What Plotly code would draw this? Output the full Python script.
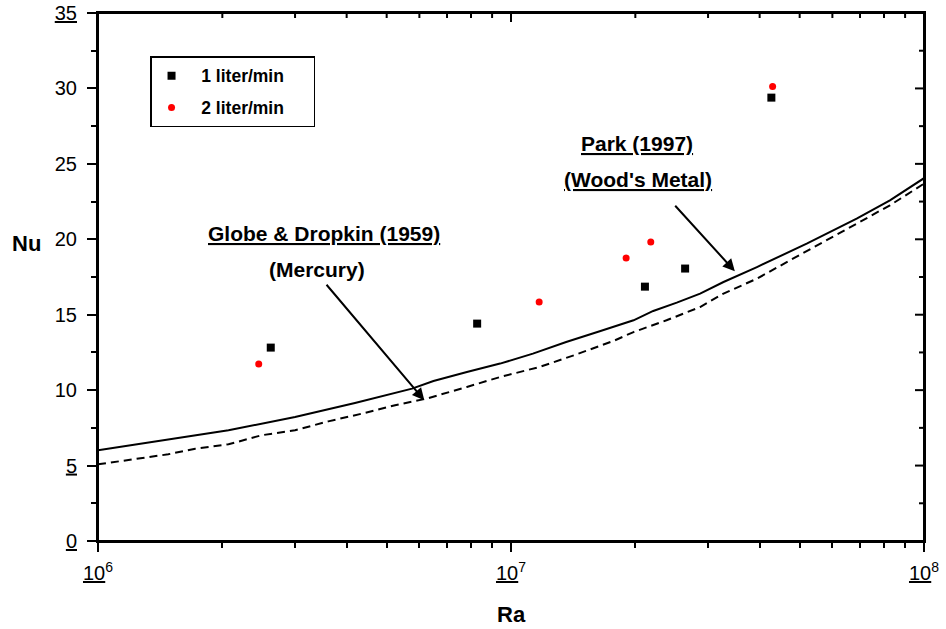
import plotly.graph_objects as go

# ---- data ----
ra_1lpm = [2.62e6, 8.28e6, 2.11e7, 2.64e7, 4.27e7]
nu_1lpm = [12.82, 14.41, 16.86, 18.06, 29.39]

ra_2lpm = [2.45e6, 1.17e7, 1.90e7, 2.18e7, 4.30e7]
nu_2lpm = [11.73, 15.84, 18.76, 19.82, 30.12]

ra_globe = [1.00e6, 2.07e6, 3.00e6, 4.19e6, 5.76e6, 6.49e6, 7.82e6, 9.41e6, 1.13e7,
            1.36e7, 1.64e7, 1.98e7, 2.21e7, 2.52e7, 2.87e7, 3.27e7, 3.94e7, 5.20e7,
            6.87e7, 8.27e7, 1.00e8]
nu_globe = [6.01, 7.34, 8.22, 9.15, 10.10, 10.61, 11.20, 11.76, 12.42,
            13.19, 13.90, 14.63, 15.25, 15.80, 16.40, 17.17, 18.16, 19.71,
            21.37, 22.58, 24.05]

ra_park = [1.00e6, 1.48e6, 1.72e6, 2.07e6, 2.49e6, 3.00e6, 3.61e6, 4.35e6, 5.24e6,
           6.25e6, 7.82e6, 9.41e6, 1.17e7, 1.42e7, 1.77e7, 1.98e7, 2.38e7, 2.87e7,
           3.27e7, 3.94e7, 4.74e7, 5.71e7, 6.87e7, 8.27e7, 1.00e8]
nu_park = [5.08, 5.75, 6.12, 6.41, 7.01, 7.34, 7.93, 8.44, 9.00,
           9.44, 10.21, 10.87, 11.53, 12.31, 13.26, 13.85, 14.63, 15.51,
           16.40, 17.39, 18.61, 19.82, 21.04, 22.25, 23.69]

x_tickvals = [1e6, 1e7, 1e8]
x_ticktext = ["<u>10</u><sup>6</sup>", "<u>10</u><sup>7</sup>", "<u>10</u><sup>8</sup>"]
x_minor = [2e6, 3e6, 4e6, 5e6, 6e6, 7e6, 8e6, 9e6,
           2e7, 3e7, 4e7, 5e7, 6e7, 7e7, 8e7, 9e7]
y_tickvals = [0, 5, 10, 15, 20, 25, 30, 35]
y_ticktext = ["<u>0</u>", "<u>5</u>", "10", "15", "20", "25", "30", "<u>35</u>"]
y_minor = [2.5, 7.5, 12.5, 17.5, 22.5, 27.5, 32.5]

FONT = "Arial, Liberation Sans, sans-serif"
NB = "\u00a0"
PLOT_W, PLOT_H = 826, 528
MAJ, MIN = 9, 5

fig = go.Figure()

fig.add_trace(go.Scatter(x=ra_globe, y=nu_globe, mode="lines",
                         line=dict(color="black", width=2), showlegend=False,
                         hoverinfo="skip"))
fig.add_trace(go.Scatter(x=ra_park, y=nu_park, mode="lines",
                         line=dict(color="black", width=2, dash="8px,5px"),
                         showlegend=False, hoverinfo="skip"))
fig.add_trace(go.Scatter(x=ra_1lpm, y=nu_1lpm, mode="markers",
                         name=NB * 2 + "1 liter/min" + NB * 5, legendgroup="a",
                         marker=dict(symbol="square", size=8, color="black")))
fig.add_trace(go.Scatter(x=ra_2lpm, y=nu_2lpm, mode="markers",
                         name=NB * 2 + "2 liter/min" + NB * 5, legendgroup="b",
                         marker=dict(symbol="circle", size=7, color="red")))

fig.update_layout(
    width=946, height=629,
    margin=dict(l=98, r=22, t=13, b=88),
    paper_bgcolor="white", plot_bgcolor="white",
    font=dict(family=FONT, size=20, color="black"),
    showlegend=True, dragmode=False, hovermode=False,
    legend=dict(x=0.063, y=0.918, xanchor="left", yanchor="top",
                bordercolor="black", borderwidth=1.5, bgcolor="white",
                font=dict(family=FONT, size=17.5, color="black", weight="bold"),
                tracegroupgap=6, itemsizing="trace"),
    xaxis=dict(type="log", range=[6, 8], showline=True, linecolor="black",
               linewidth=2, mirror=True, showgrid=False, zeroline=False,
               automargin=False, ticklabeloverflow="allow",
               ticks="outside", ticklen=MAJ, tickwidth=2, tickcolor="black",
               tickvals=x_tickvals, ticktext=x_ticktext,
               ticklabelstandoff=4,
               tickfont=dict(family=FONT, size=20),
               minor=dict(tickvals=x_minor, ticks="outside", ticklen=MIN,
                          tickwidth=2, tickcolor="black", showgrid=False)),
    yaxis=dict(range=[0, 35], showline=True, linecolor="black", linewidth=2,
               mirror=True, showgrid=False, zeroline=False,
               automargin=False, ticklabeloverflow="allow",
               ticks="outside", ticklen=MAJ, tickwidth=2, tickcolor="black",
               tickvals=y_tickvals, ticktext=y_ticktext,
               ticklabelstandoff=6,
               tickfont=dict(family=FONT, size=20),
               minor=dict(tickvals=y_minor, ticks="outside", ticklen=MIN,
                          tickwidth=2, tickcolor="black", showgrid=False)),
)

# plot frame
fig.add_shape(type="rect", xref="paper", yref="paper", x0=0, x1=1, y0=0, y1=1,
              line=dict(color="black", width=2), layer="above")

# inside ticks on top and right edges, placed at the axis tick values
tick_line = dict(color="black", width=2)
for vals, ln in ((x_tickvals, MAJ), (x_minor, MIN)):
    for v in vals:
        fig.add_shape(type="line", xref="x", yref="paper", x0=v, x1=v,
                      y0=1, y1=1 - ln / PLOT_H, line=tick_line, layer="above")
for vals, ln in ((y_tickvals, MAJ), (y_minor, MIN)):
    for v in vals:
        fig.add_shape(type="line", xref="paper", yref="y", x0=1,
                      x1=1 - ln / PLOT_W, y0=v, y1=v, line=tick_line,
                      layer="above")

ann_font = dict(family=FONT, size=21, color="black", weight="bold")
annotations = [
    dict(text="<u>Globe & Dropkin (1959)</u>", x=6.547, y=20.40),
    dict(text="(Mercury)", x=6.5295, y=18.01),
    dict(text="<u>Park (1997)</u>", x=7.306, y=26.34),
    dict(text="<u>(Wood's Metal)</u>", x=7.308, y=23.98),
]
for a in annotations:
    fig.add_annotation(text=a["text"], x=a["x"], y=a["y"], xref="x", yref="y",
                       xanchor="center", yanchor="middle",
                       showarrow=False, font=ann_font)

# arrows
fig.add_annotation(x=6.790, y=9.33, xref="x", yref="y", ax=-99, ay=-117,
                   showarrow=True, arrowhead=2, arrowsize=1.2, arrowwidth=2,
                   arrowcolor="black", text="")
fig.add_annotation(x=7.542, y=17.88, xref="x", yref="y", ax=-61, ay=-67,
                   showarrow=True, arrowhead=2, arrowsize=1.2, arrowwidth=2,
                   arrowcolor="black", text="")

# axis titles
title_font = dict(family=FONT, size=22, color="black", weight="bold")
fig.add_annotation(text="Nu", x=-0.086, y=0.564, xref="paper", yref="paper",
                   xanchor="center", yanchor="middle",
                   showarrow=False, font=title_font)
fig.add_annotation(text="Ra", x=0.5, y=-0.140, xref="paper", yref="paper",
                   xanchor="center", yanchor="middle",
                   showarrow=False, font=title_font)

fig.write_html("out.html",
               config={"displayModeBar": False, "staticPlot": True},
               post_script="document.body.style.margin='0';"
                           "document.body.style.padding='0';")
